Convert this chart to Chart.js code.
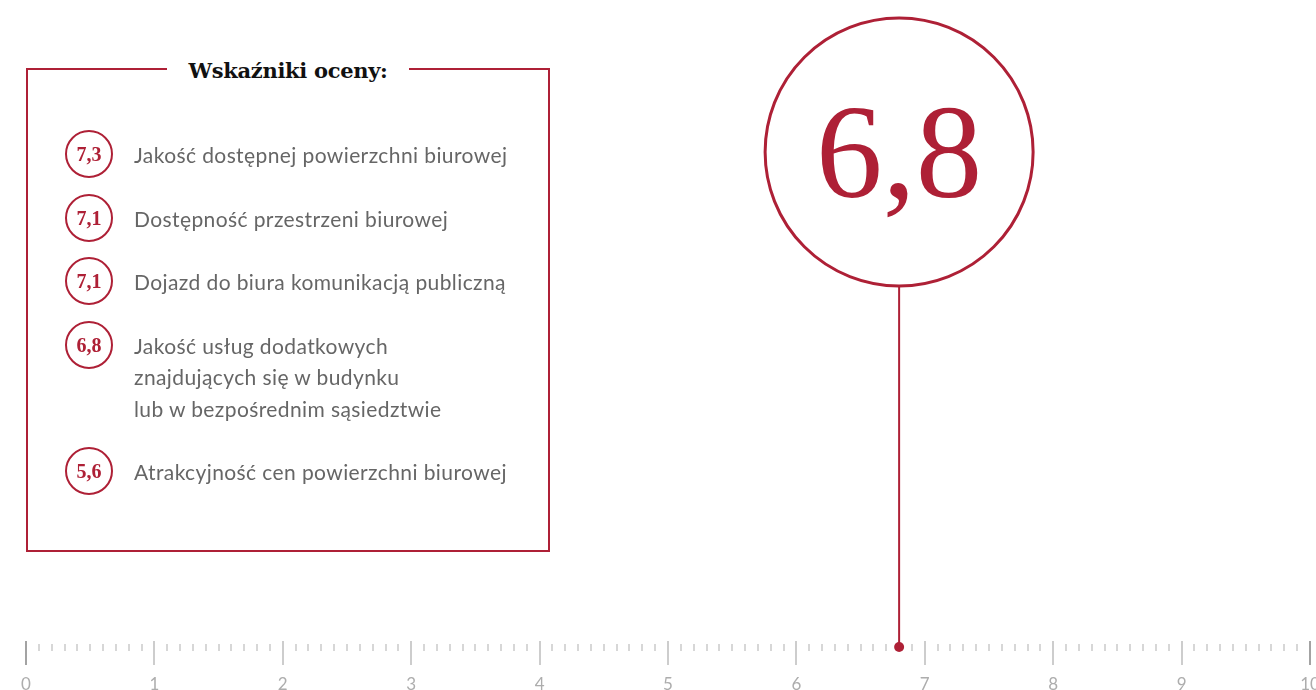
<!DOCTYPE html>
<html lang="pl">
<head>
<meta charset="utf-8">
<title>Wskaźniki oceny</title>
<script src="https://cdn.jsdelivr.net/npm/chart.js@4.4.1/dist/chart.umd.min.js"></script>
<style>
  html, body { margin: 0; padding: 0; background: #fff; }
  #wrap { position: relative; width: 1316px; height: 690px; overflow: hidden; }
  #chart { position: absolute; left: 0; top: 0; }
  .box {
    position: absolute; left: 26px; top: 68px; width: 524px; height: 484px;
    box-sizing: border-box; border: 2px solid #ae2036;
  }
  .box h2 {
    position: absolute; left: 0; right: 0; top: -12px; margin: 0 auto;
    width: max-content; padding: 0 21px; background: #fff;
    font: bold 21px 'DejaVu Serif', serif; line-height: 26px; color: #111;
    letter-spacing: -0.3px;
  }
  .box ul { list-style: none; margin: 0; padding: 0; position: absolute; left: 0; top: 69px; right: 0; }
  .box li {
    position: relative; padding-left: 106px; margin-bottom: 32px;
    font: 21px Lato, sans-serif; line-height: 31.5px; color: #666; white-space: pre-line;
    letter-spacing: 0.4px;
  }
  .badge {
    position: absolute; left: 37px; top: -9px; width: 48px; height: 48px;
    box-sizing: border-box; border: 2px solid #ae2036; border-radius: 50%;
    display: flex; align-items: center; justify-content: center;
    font: bold 20px 'Liberation Serif', serif; color: #ae2036; line-height: 1;
    letter-spacing: 0;
  }
</style>
</head>
<body>
<div id="wrap">
  <canvas id="chart" width="1316" height="690"></canvas>
  <div class="box">
    <h2>Wskaźniki oceny:</h2>
    <ul id="indicators"></ul>
  </div>
</div>
<script>
// overall score shown on the ruler
const overallScore = 6.8
// partial scores listed in the box
const indicatorLabels = [
  'Jakość dostępnej powierzchni biurowej',
  'Dostępność przestrzeni biurowej',
  'Dojazd do biura komunikacją publiczną',
  'Jakość usług dodatkowych\nznajdujących się w budynku\nlub w bezpośrednim sąsiedztwie',
  'Atrakcyjność cen powierzchni biurowej'
]
const indicatorScores = [7.3, 7.1, 7.1, 6.8, 5.6]
// ruler range and tick steps
const rulerMin = 0
const rulerMax = 10
const majorStep = 1
const minorStep = 0.1

const red = '#ae2036'

// polish decimal comma
let fmt = function(v) {
  return v.toFixed(1).replace('.', ',')
}

// fill the list of indicators
let elList = document.getElementById('indicators')
for (let i = 0; i < indicatorLabels.length; i++) {
  let li = document.createElement('li')
  let badge = document.createElement('span')
  badge.className = 'badge'
  badge.textContent = fmt(indicatorScores[i])
  li.appendChild(badge)
  li.appendChild(document.createTextNode(indicatorLabels[i]))
  elList.appendChild(li)
}

// ruler ticks, stem and the big score circle
const rulerPlugin = {
  id: 'ruler',
  beforeDatasetsDraw(chart) {
    const ctx = chart.ctx
    const x = chart.scales.x
    const y = chart.scales.y
    const base = y.getPixelForValue(0)

    ctx.save()
    const n = Math.round((rulerMax - rulerMin) / minorStep)
    for (let i = 0; i <= n; i++) {
      const v = rulerMin + i * minorStep
      const px = Math.round(x.getPixelForValue(v))
      const major = i % Math.round(majorStep / minorStep) === 0
      ctx.beginPath()
      if (major) {
        const edge = i === 0 || i === n
        ctx.strokeStyle = edge ? '#a3a3a3' : '#cdcdcd'
        ctx.lineWidth = 2
        ctx.moveTo(px, base - 6)
        ctx.lineTo(px, base + 18)
      } else {
        ctx.strokeStyle = '#cacaca'
        ctx.lineWidth = 1.5
        ctx.moveTo(px, base - 3)
        ctx.lineTo(px, base + 4)
      }
      ctx.stroke()
    }

    // pin from the ruler up to the circle
    const cx = x.getPixelForValue(overallScore)
    const cy = 152
    const r = 134
    ctx.strokeStyle = red
    ctx.lineWidth = 2
    ctx.beginPath()
    ctx.moveTo(cx, base)
    ctx.lineTo(cx, cy + r)
    ctx.stroke()

    ctx.lineWidth = 3
    ctx.beginPath()
    ctx.arc(cx, cy, r, 0, Math.PI * 2)
    ctx.stroke()

    ctx.fillStyle = red
    ctx.font = '133px "Liberation Serif", serif'
    ctx.textAlign = 'center'
    ctx.textBaseline = 'alphabetic'
    ctx.fillText(fmt(overallScore), cx, cy + 45)
    ctx.restore()
  }
}

let elCanvas = document.getElementById('chart')
new Chart(elCanvas, {
  type: 'scatter',
  data: {
    datasets: [{
      data: [{x: overallScore, y: 0}],
      pointRadius: 5,
      pointHoverRadius: 5,
      backgroundColor: red,
      borderWidth: 0,
      clip: false
    }]
  },
  options: {
    responsive: false,
    devicePixelRatio: 1,
    animation: false,
    layout: { padding: { left: 26, right: 6, top: 0, bottom: 0 } },
    plugins: { legend: { display: false }, tooltip: { enabled: false } },
    scales: {
      x: {
        type: 'linear',
        min: rulerMin,
        max: rulerMax,
        grid: { display: false, drawTicks: false },
        border: { display: false },
        ticks: {
          stepSize: majorStep,
          padding: 27,
          color: '#adadad',
          font: { family: 'Lato', size: 17 }
        },
        afterFit(scale) {
          // keep the ruler baseline low and the end labels free to overflow
          scale.height = 43
          scale.paddingLeft = 0
          scale.paddingRight = 0
        }
      },
      y: { display: false, min: 0, max: 1 }
    }
  },
  plugins: [rulerPlugin]
})
</script>
</body>
</html>
